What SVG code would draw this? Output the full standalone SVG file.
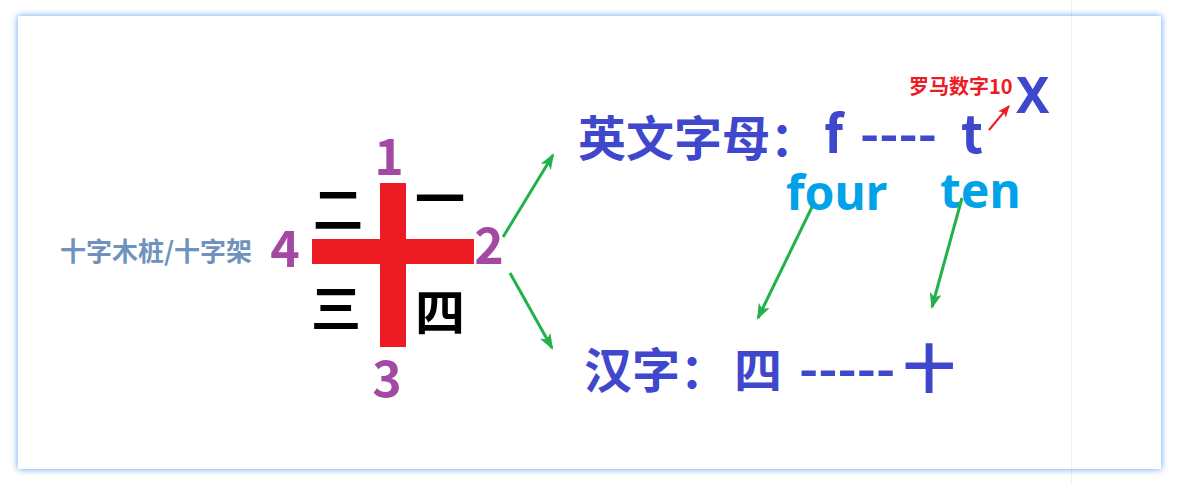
<svg xmlns="http://www.w3.org/2000/svg" width="1180" height="485" viewBox="0 0 1180 485">
  <style>
    .cjk { font-family: "Noto Sans CJK SC", "Liberation Sans", sans-serif; font-weight: bold; }
    .lat { font-family: "Noto Sans", "Liberation Sans", sans-serif; font-weight: bold; }
    .blue { fill: #3F48CC; }
    .purple { fill: #A349A4; }
    .sky { fill: #00A2E8; }
    .black { fill: #000000; }
    .green-line { stroke: #22B14C; stroke-width: 3; fill: none; }
    .red-line { stroke: #ED1C24; stroke-width: 2; fill: none; }
  </style>
  <defs>
    <filter id="glow" x="-5%" y="-5%" width="110%" height="110%">
      <feDropShadow dx="0" dy="0" stdDeviation="3.5" flood-color="#5c9cf0" flood-opacity="1"/>
    </filter>
    <marker id="gArrow" markerWidth="16" markerHeight="12" refX="14" refY="6" orient="auto" markerUnits="userSpaceOnUse">
      <path d="M0,0 L16,6 L0,12 L4,6 Z" fill="#22B14C"/>
    </marker>
    <marker id="rArrow" markerWidth="12" markerHeight="10" refX="11" refY="5" orient="auto" markerUnits="userSpaceOnUse">
      <path d="M0,0 L12,5 L0,10 L3,5 Z" fill="#ED1C24"/>
    </marker>
  </defs>

  <rect x="0" y="0" width="1180" height="485" fill="#ffffff"/>
  <line x1="1071.5" y1="0" x2="1071.5" y2="485" stroke="#eceff3" stroke-width="1"/>
  <rect id="frame" x="18" y="16" width="1143" height="453" fill="#ffffff" filter="url(#glow)"/>
  <line x1="1071.5" y1="16" x2="1071.5" y2="469" stroke="#f1f3f6" stroke-width="1"/>

  <g id="cross">
    <rect x="380" y="183" width="26" height="164" fill="#ED1C24"/>
    <rect x="312" y="239" width="162" height="25" fill="#ED1C24"/>
  </g>

  <g id="quadrants" class="cjk black">
    <text x="313" y="228" font-size="50">二</text>
    <text x="415" y="217" font-size="50">一</text>
    <text x="311" y="327" font-size="50">三</text>
    <text x="415" y="331" font-size="50">四</text>
  </g>

  <g id="numbers" class="cjk purple" font-size="50" text-anchor="middle">
    <text x="389" y="175">1</text>
    <text x="489" y="264">2</text>
    <text x="387" y="397">3</text>
    <text x="285" y="267">4</text>
  </g>

  <g id="label-cross">
    <text x="60" y="261" class="cjk" font-size="26" fill="#7092BE">十字木桩/十字架</text>
  </g>

  <g id="english-row">
    <text y="156" class="cjk blue" font-size="48"><tspan x="578">英文字母：</tspan><tspan x="824" y="153" font-size="52">f</tspan><tspan x="860" font-size="52">----</tspan><tspan x="961" font-size="52">t</tspan></text>
  </g>

  <g id="roman">
    <text x="909" y="94" class="cjk" font-size="20" fill="#ED1C24">罗马数字10</text>
    <text x="1016" y="113" class="lat blue" font-size="50">X</text>
  </g>

  <g id="words" class="lat sky" font-size="48">
    <text x="786" y="210">four</text>
    <text x="940" y="208">ten</text>
  </g>

  <g id="chinese-row">
    <text y="388" class="cjk blue" font-size="48"><tspan x="584">汉字：</tspan><tspan x="734">四</tspan><tspan x="799" font-size="52">-----</tspan><tspan x="903" font-size="52">十</tspan></text>
  </g>

  <g id="connectors">
    <line x1="503" y1="237" x2="553" y2="155" class="green-line" marker-end="url(#gArrow)"/>
    <line x1="510" y1="273" x2="552" y2="348" class="green-line" marker-end="url(#gArrow)"/>
    <line x1="812" y1="207" x2="758" y2="318" class="green-line" marker-end="url(#gArrow)"/>
    <line x1="962" y1="198" x2="932" y2="307" class="green-line" marker-end="url(#gArrow)"/>
    <line x1="989" y1="130" x2="1009" y2="106" class="red-line" marker-end="url(#rArrow)"/>
  </g>
</svg>
